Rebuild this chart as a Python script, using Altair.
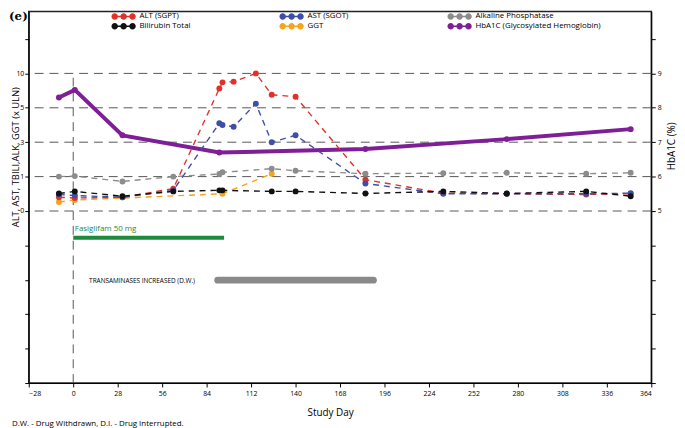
import altair as alt
import pandas as pd
import numpy as np

# ---- data ----
days = [-9, 1, 31, 63, 92, 94, 101, 115, 125, 140, 184, 233, 273, 323, 351]
alt_vals = [0.40, 0.38, 0.40, 0.65, 7.8, 8.7, 8.8, 10.0, 6.9, 6.6, 0.91, 0.52, 0.50, 0.48, 0.50]
ast_vals = [0.48, 0.45, 0.40, 0.60, 4.1, 4.0, 3.9, 5.6, 3.0, 3.4, 0.80, 0.50, 0.50, 0.50, 0.52]
alk_vals = [1.0, 1.03, 0.86, 1.0, 1.15, 1.25, None, None, 1.46, 1.34, 1.17, 1.2, 1.22, 1.17, 1.22]
bili_vals = [0.51, 0.57, 0.43, 0.57, 0.6, 0.6, None, None, 0.57, 0.57, 0.51, 0.57, 0.51, 0.57, 0.43]
ggt_days = [-9, 1, 94, 125]
ggt_vals = [0.26, 0.32, 0.50, 1.17]
hba_days = [-9, 1, 31, 92, 184, 273, 351]
hba_vals = [8.3, 8.52, 7.2, 6.7, 6.8, 7.09, 7.38]

lab_ticks = [0, 1, 3, 5, 10]        # left axis (x ULN)
hba_ticks = [5, 6, 7, 8, 9]         # right axis (HbA1C %)
x_ticks = list(range(-28, 365, 28))

# legend order (filled column by column: 3 columns x 2 rows)
series = ["ALT (SGPT)", "Bilirubin Total", "AST (SGOT)", "GGT", "Alkaline Phosphatase",
          "HbA1C (Glycosylated Hemoglobin)"]
colors = ["#e2312b", "#111111", "#3f4ea6", "#f4a51c", "#8c8c8c", "#7f1f98"]
ALT, BILI, AST, GGT, ALK, HBA = series

drug_start, drug_end = [0], [95]
ae_start, ae_end = [91], [189]

FONT = "Open Sans"

# ---- build tables ----
rows = []
for name, d, v in [(GGT, ggt_days, ggt_vals), (ALK, days, alk_vals),
                   (ALT, days, alt_vals), (AST, days, ast_vals),
                   (BILI, days, bili_vals)]:
    for dd, vv in zip(d, v):
        if vv is not None:
            rows.append({"day": dd, "val": vv, "series": name})
labs = pd.DataFrame(rows)
labs["y"] = np.interp(labs["val"], lab_ticks, hba_ticks)
hba = pd.DataFrame({"day": hba_days, "y": hba_vals, "series": HBA})
allpts = pd.concat([hba, labs[["day", "y", "series"]]], ignore_index=True)

ysc = alt.Scale(domain=[0, 10.8], nice=False, zero=False)
xsc = alt.Scale(domain=[-28, 364], nice=False, zero=False)
xaxis = alt.Axis(values=x_ticks, title="Study Day", grid=False,
                 tickSize=4, labelFontSize=7, titleFontSize=10, titleFontWeight="normal",
                 titlePadding=11, labelPadding=3, titleX=305, titleAlign="center",
                 domainColor="black", tickColor="black",
                 labelColor="black", titleColor="black", labelFont=FONT, titleFont=FONT)
X = alt.X("day:Q", scale=xsc, axis=xaxis)
cscale = alt.Scale(domain=series, range=colors)
# stroke scale: same mapping, listed in reverse so its (hidden) legend is not merged with the colour legend
sscale = alt.Scale(domain=series[::-1], range=colors[::-1])

lab_map = dict(zip(hba_ticks, lab_ticks))
left_expr = " : ".join([f"datum.value == {k} ? '{v}'" for k, v in lab_map.items()]) + " : ''"
right_expr = f"datum.value >= {hba_ticks[0]} && datum.value <= {hba_ticks[-1]} ? datum.label : ''"

left_axis = alt.Axis(orient="left", values=list(range(0, 11)), labelExpr=left_expr, grid=False,
                     title="ALT, AST, TBILI,ALK, GGT (x ULN)", tickSize=4, labelFontSize=7,
                     titleFontSize=9.5, titleFontWeight="normal", titleX=-10.5, titleY=147,
                     titleAlign="center", titleBaseline="alphabetic", titleAngle=270,
                     domainColor="black", tickColor="black", labelColor="black",
                     titleColor="black", labelFont=FONT, titleFont=FONT, labelPadding=1)
right_axis = alt.Axis(orient="right", values=list(range(0, 11)), labelExpr=right_expr, grid=False,
                      title="HbA1C (%)", tickSize=4, labelFontSize=7,
                      titleFontSize=10, titleFontWeight="normal", titleX=23, titleY=136,
                      titleAlign="center", titleBaseline="alphabetic", titleAngle=270,
                      domainColor="black", tickColor="black", labelColor="black",
                      titleColor="black", labelFont=FONT, titleFont=FONT, labelPadding=2)

grid = alt.Chart(pd.DataFrame({"y": hba_ticks})).mark_rule(
    color="#555555", strokeDash=[9, 6], strokeWidth=1
).encode(y=alt.Y("y:Q", scale=ysc, axis=left_axis))

vline = alt.Chart(pd.DataFrame({"day": [0], "y": [0], "y2": [hba_ticks[-1]]})).mark_rule(
    color="#555555", strokeDash=[9, 6], strokeWidth=1
).encode(x=X, y=alt.Y("y:Q", scale=ysc, axis=None), y2="y2:Q")

hba_line = alt.Chart(hba).mark_line(strokeWidth=4).encode(
    x=X, y=alt.Y("y:Q", scale=ysc, axis=right_axis),
    stroke=alt.Stroke("series:N", scale=sscale, legend=None))

lab_lines = alt.Chart(labs).mark_line(strokeDash=[6, 5], strokeWidth=1.4).encode(
    x=X, y=alt.Y("y:Q", scale=ysc, axis=None),
    stroke=alt.Stroke("series:N", scale=sscale, legend=None),
    detail="series:N", order="day:Q")

sym = ("M-4.1,0 A1.1,1.1 0 1,1 -1.9,0 A1.1,1.1 0 1,1 -4.1,0 Z "
       "M-1.1,0 A1.1,1.1 0 1,1 1.1,0 A1.1,1.1 0 1,1 -1.1,0 Z "
       "M1.9,0 A1.1,1.1 0 1,1 4.1,0 A1.1,1.1 0 1,1 1.9,0 Z "
       "M-3,-0.25 L3,-0.25 L3,0.25 L-3,0.25 Z")

points = alt.Chart(allpts).mark_circle(size=36, opacity=1).encode(
    x=X, y=alt.Y("y:Q", scale=ysc, axis=None),
    color=alt.Color("series:N", scale=cscale, sort=series,
                    legend=alt.Legend(orient="none", legendX=92, legendY=1, columns=3,
                                      title=None, symbolType=sym, symbolSize=36,
                                      symbolStrokeWidth=0, labelOffset=12, labelFontSize=8,
                                      labelFont=FONT, labelColor="black", columnPadding=14,
                                      rowPadding=2, gridAlign="all", padding=0)))

bars = pd.DataFrame({
    "start": [drug_start[0], ae_start[0]], "end": [drug_end[0], ae_end[0]],
    "y": [4.22, 2.99], "kind": ["drug", "ae"]})
drug_bar = alt.Chart(bars[bars.kind == "drug"]).mark_rule(color="#1e8a3c", strokeWidth=4).encode(
    x=alt.X("start:Q", scale=xsc, axis=xaxis), x2="end:Q", y=alt.Y("y:Q", scale=ysc, axis=None))
ae_bar = alt.Chart(bars[bars.kind == "ae"]).mark_rule(color="#8a8a8a", strokeWidth=7,
                                                     strokeCap="round").encode(
    x=alt.X("start:Q", scale=xsc, axis=xaxis), x2="end:Q", y=alt.Y("y:Q", scale=ysc, axis=None))

labels = pd.DataFrame({"day": [1, 10], "y": [4.36, 2.97],
                       "text": ["Fasiglifam 50 mg", "TRANSAMINASES INCREASED (D.W.)"],
                       "kind": ["drug", "ae"]})
drug_txt = alt.Chart(labels[labels.kind == "drug"]).mark_text(
    align="left", baseline="bottom", fontSize=8, color="#1e8a3c", font=FONT
).encode(x=X, y=alt.Y("y:Q", scale=ysc, axis=None), text="text:N")
ae_txt = alt.Chart(labels[labels.kind == "ae"]).mark_text(
    align="left", baseline="middle", fontSize=6.5, color="black", font=FONT
).encode(x=X, y=alt.Y("y:Q", scale=ysc, axis=None), text="text:N")

note = alt.Chart(pd.DataFrame({"t": ["D.W. - Drug Withdrawn, D.I. - Drug Interrupted."]})).mark_text(
    align="left", baseline="alphabetic", fontSize=8, color="black", font=FONT
).encode(x=alt.value(-17), y=alt.value(419), text="t:N")
panel = alt.Chart(pd.DataFrame({"t": ["(e)"]})).mark_text(
    align="left", baseline="middle", fontSize=12, fontWeight="bold", color="black",
    font="DejaVu Serif").encode(x=alt.value(-20), y=alt.value(5), text="t:N")

chart = alt.layer(grid, hba_line, vline, lab_lines, points, drug_bar, ae_bar, drug_txt, ae_txt,
                  note, panel).resolve_scale(y="independent").properties(
    width=630, height=376,
    autosize=alt.AutoSizeParams(type="none"),
    padding={"left": 21, "top": 1, "right": 26, "bottom": 43},
).configure_view(stroke="#222222", strokeWidth=1.5)

chart.save("out.html", embed_options={"renderer": "svg", "actions": False})
